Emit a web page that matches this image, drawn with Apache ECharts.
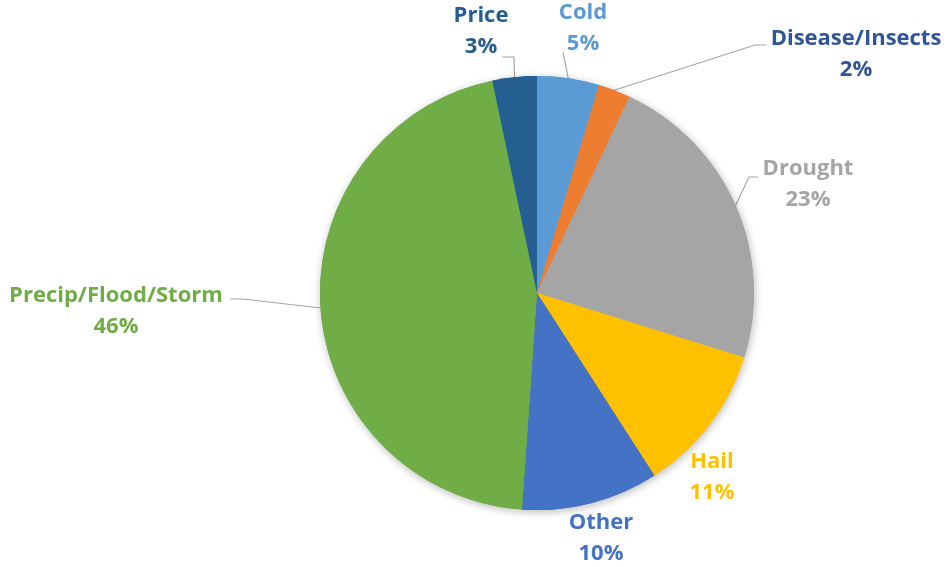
<!DOCTYPE html>
<html>
<head>
<meta charset="utf-8">
<script src="https://cdn.jsdelivr.net/npm/echarts@6/dist/echarts.min.js"></script>
<style>
  html, body { margin: 0; padding: 0; background: #fff; }
  #chart { width: 946px; height: 567px; }
</style>
</head>
<body>
<div id="chart"></div>
<script>
// data, clockwise from 12 o'clock
const categories = ['Cold', 'Disease/Insects', 'Drought', 'Hail', 'Other', 'Precip/Flood/Storm', 'Price']
const values = [4.6, 2.4, 22.8, 11.1, 10.2, 45.6, 3.3]

const colors = ['#5B9BD5', '#ED7D31', '#A5A5A5', '#FFC000', '#4472C4', '#70AD47', '#255E91']
const labelColors = ['#5B9BD5', '#2F5597', '#A5A5A5', '#FFC000', '#4472C4', '#70AD47', '#255E91']
// where each label sits (text centre), px
const labelPos = [[583, 28], [856, 54], [808, 184], [712, 477], [601, 538], [116, 311], [481, 31]]
// leader line bends/ends after the slice edge (null = no leader)
const leaderTail = [
  [[563, 52]],
  [[755, 45], [766, 45]],
  [[749, 177], [758, 177]],
  null,
  null,
  [[243, 299], [230, 299]],
  [[514, 57], [502, 57]]
]

const chart = echarts.init(document.getElementById('chart'))

const pieData = categories.map((name, i) => ({
  name,
  value: values[i],
  itemStyle: { color: colors[i] },
  label: { color: labelColors[i] },
  labelLine: { show: !!leaderTail[i] }
}))

chart.setOption({
  animation: false,
  series: [
    {
      // soft shadow underneath
      type: 'pie',
      silent: true,
      center: [537, 293],
      radius: 217,
      startAngle: 90,
      label: { show: false },
      labelLine: { show: false },
      itemStyle: { shadowBlur: 8, shadowColor: 'rgba(0,0,0,0.28)', shadowOffsetX: 1, shadowOffsetY: 2 },
      data: pieData.map(d => ({ name: d.name, value: d.value, itemStyle: d.itemStyle }))
    },
    {
      type: 'pie',
      center: [537, 293],
      radius: 217,
      startAngle: 90,
      data: pieData,
      label: {
        show: true,
        position: 'outside',
        fontFamily: 'Open Sans',
        fontWeight: 'bold',
        fontSize: 22,
        lineHeight: 31,
        align: 'center',
        formatter: p => p.name + '\n' + Math.round(p.value) + '%'
      },
      labelLine: {
        show: true,
        length: 15,
        length2: 10,
        smooth: false,
        lineStyle: { color: '#A6A6A6', width: 1.2 }
      },
      labelLayout: params => {
        const i = params.dataIndex
        const pos = labelPos[i]
        const out = { x: pos[0], y: pos[1], align: 'center', verticalAlign: 'middle' }
        const tail = leaderTail[i]
        if (tail && params.labelLinePoints) {
          out.labelLinePoints = [params.labelLinePoints[0]].concat(tail)
        }
        return out
      }
    }
  ]
})

window.addEventListener('resize', () => chart.resize())
</script>
</body>
</html>
